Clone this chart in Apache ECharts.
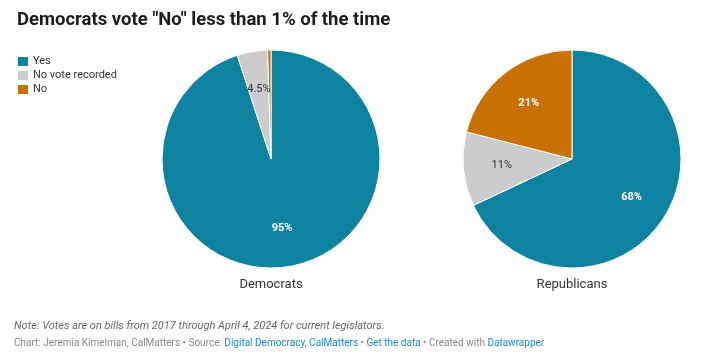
<!DOCTYPE html>
<html>
<head>
<meta charset="utf-8">
<script src="https://cdn.jsdelivr.net/npm/echarts@6/dist/echarts.min.js"></script>
<style>
html,body{margin:0;padding:0;background:#fff;}
#c{width:723px;height:364px;}
</style>
</head>
<body>
<div id="c"></div>
<script>
var categories = ['Yes', 'No vote recorded', 'No'];
var groups = ['Democrats', 'Republicans'];
var democrats = [95, 4.5, 0.5];
var republicans = [68, 11, 21];
var shownLabels = [[true, true, false], [true, true, true]];

var colors = ['#0e83a1', '#cccccc', '#c97100'];
var labelColors = ['#ffffff', '#333333', '#ffffff'];
var labelWeights = ['bold', 'normal', 'bold'];
var FONT = 'Roboto, sans-serif';

function mkData(vals, gi, forLabels) {
  return vals.map(function (v, i) {
    var d = { name: categories[i], value: v };
    if (forLabels) {
      d.itemStyle = { color: 'rgba(0,0,0,0)', borderWidth: 0 };
      d.label = { show: shownLabels[gi][i], color: labelColors[i], fontWeight: labelWeights[i] };
    } else {
      d.itemStyle = { color: colors[i] };
    }
    return d;
  });
}

var centers = [[271, 159], [572, 159]];
var R = 109;
var series = [];
[democrats, republicans].forEach(function (vals, gi) {
  series.push({
    type: 'pie', name: groups[gi], center: centers[gi], radius: [0, R],
    startAngle: 90, clockwise: true, avoidLabelOverlap: false,
    label: { show: false }, labelLine: { show: false },
    itemStyle: { borderColor: '#ffffff', borderWidth: 1 },
    emphasis: { disabled: true }, animation: false,
    data: mkData(vals, gi, false)
  });
  series.push({
    type: 'pie', name: groups[gi] + ' labels', center: centers[gi], radius: [0, R * 1.24],
    startAngle: 90, clockwise: true, avoidLabelOverlap: false, silent: true,
    label: { show: true, position: 'inside', fontFamily: FONT, fontSize: 11,
      formatter: function (p) { return p.value + '%'; } },
    labelLine: { show: false },
    emphasis: { disabled: true }, animation: false,
    data: mkData(vals, gi, true)
  });
});

var chart = echarts.init(document.getElementById('c'), null, { renderer: 'canvas' });
chart.setOption({
  animation: false,
  color: colors,
  legend: {
    data: categories, orient: 'vertical', left: 16, top: 55, padding: 0,
    icon: 'rect', itemWidth: 12, itemHeight: 11, itemGap: 1,
    selectedMode: false,
    textStyle: { fontFamily: FONT, fontSize: 11, color: '#333', padding: [0, 0, 0, -1] }
  },
  series: series,
  graphic: [
    { type: 'text', left: 17, top: 11, style: { text: 'Democrats vote "No" less than 1% of the time',
      font: 'bold 18.5px Roboto, sans-serif', fill: '#1b1b1b' } },
    { type: 'text', x: centers[0][0], y: 285, style: { text: groups[0], font: '13px Roboto, sans-serif',
      fill: '#333', align: 'center', verticalAlign: 'middle' } },
    { type: 'text', x: centers[1][0], y: 285, style: { text: groups[1], font: '13px Roboto, sans-serif',
      fill: '#333', align: 'center', verticalAlign: 'middle' } },
    { type: 'text', left: 14, top: 321, style: { text: 'Note: Votes are on bills from 2017 through April 4, 2024 for current legislators.',
      font: 'italic 11px Roboto, sans-serif', fill: '#666' } },
    { type: 'text', left: 14, top: 338, style: {
      text: '{g|Chart: Jeremia Kimelman, CalMatters • Source: }{b|Digital Democracy, CalMatters}{g| • }{b|Get the data}{g| • Created with }{b|Datawrapper}',
      rich: {
        g: { fontFamily: FONT, fontSize: 10, fill: '#888', color: '#888' },
        b: { fontFamily: FONT, fontSize: 10, fill: '#1a8ad0', color: '#1a8ad0' }
      } } }
  ]
});
</script>
</body>
</html>
